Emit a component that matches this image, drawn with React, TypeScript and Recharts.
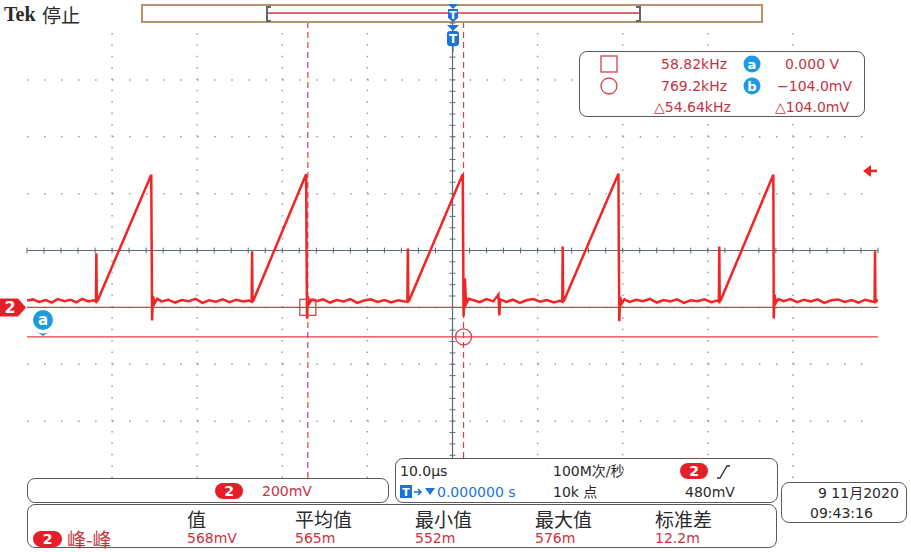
import React from "react";
import { LineChart, Line, XAxis, YAxis, ReferenceLine, ReferenceDot } from "recharts";

// 通道2 波形，时间 µs / 电压 mV（从截图读出）
const timeUs = [
  -50, -49.3, -48.6, -47.8, -47.1, -46.4, -45.6, -44.9, -44.2, -43.5, -42.8, -42.2,
  -41.9, -41.85, -41.8, -41.7, -35.4, -35.3, -35.2, -35.0, -34.7,
  -34.2, -33.4, -32.6, -31.8, -31.0, -30.2, -29.4, -28.6, -27.8, -27.0, -26.2, -25.4, -24.6, -23.9,
  -23.6, -23.55, -23.5, -23.4, -17.2, -17.1, -17.0, -16.8, -16.5,
  -16.0, -15.2, -14.4, -13.6, -12.8, -12.0, -11.2, -10.4, -9.6, -8.8, -8.0, -7.2, -6.4, -5.6,
  -5.3, -5.25, -5.2, -5.1, 1.2, 1.3, 1.45, 1.6, 1.9,
  2.4, 3.2, 4.0, 4.8, 5.4, 5.5, 5.6, 6.3, 7.1, 7.9, 8.7, 9.5, 10.3, 11.1, 11.9, 12.6,
  12.9, 12.95, 13.0, 13.1, 19.5, 19.55, 19.6, 19.7, 19.9, 20.2,
  20.8, 21.6, 22.4, 23.2, 24.0, 24.8, 25.6, 26.4, 27.2, 28.0, 28.8, 29.6, 30.4, 31.1,
  31.3, 31.35, 31.4, 31.5, 37.7, 37.75, 37.85, 38.0, 38.3,
  38.9, 39.7, 40.5, 41.3, 42.1, 42.9, 43.7, 44.5, 45.3, 46.1, 46.9, 47.7, 48.5, 49.3,
  49.6, 49.65, 49.7, 50,
];
const ch2mV = [
  24, 28, 19, 26, 17, 29, 22, 27, 18, 30, 21, 25,
  20, 190, 22, 24, 466, -46, 40, 14, 30,
  21, 27, 17, 26, 22, 30, 16, 25, 20, 28, 18, 27, 21, 24,
  20, 197, 22, 24, 468, -40, 38, 15, 28,
  22, 28, 17, 26, 21, 29, 16, 24, 28, 19, 26, 17, 25, 21,
  20, 207, 22, 24, 468, -32, 102, 12, 30,
  26, 18, 29, 21, 45, -28, 28, 19, 27, 16, 25, 29, 20, 26, 17, 23,
  20, 214, 22, 24, 470, 160, -49, 36, 14, 28,
  19, 27, 22, 30, 17, 26, 21, 28, 16, 25, 22, 28, 18, 24,
  20, 214, 22, 24, 466, -39, 45, 15, 29,
  22, 29, 18, 27, 21, 28, 16, 25, 28, 19, 26, 17, 27, 21,
  20, 197, 20, 26,
];

// 刻度（10 格 x 8 格，10µs/格，200mV/格）
const xDomain = [-50, 50];
const yDomain = [-600, 1000];
const xDivs = [-40, -30, -20, -10, 10, 20, 30, 40];
const yDivs = [-400, -200, 0, 400, 600, 800];
const xMinor = Array.from({ length: 51 }, (_, i) => -50 + i * 2);
const yMinor = Array.from({ length: 41 }, (_, i) => -600 + i * 40);
const yCenter = 200;

// 光标
const cursorTimes = [-17.0, 1.3];
const cursorLevels = [0, -104];
const triggerLevel = 480;

const readoutRows = [
  { freq: "58.82kHz", tag: "a", volt: "0.000 V", vx: 785 },
  { freq: "769.2kHz", tag: "b", volt: "−104.0mV", vx: 777 },
];
const measHeads = ["值", "平均值", "最小值", "最大值", "标准差"];
const measVals = ["568mV", "565m", "552m", "576m", "12.2m"];
const measX = [187, 295, 415, 535, 655];

const data = timeUs.map((t, i) => ({ t, v: ch2mV[i] }));

const red = "#f22525";
const redText = "#c8323e";
const dark = "#2a2a2a";
const boxLine = "#5a5a5a";
const tan = "#b8946d";
const blue = "#1b74d4";
const gridGray = "#9c9c9c";
const centerGray = "#5b6a7c";
const sans = "'DejaVu Sans', 'Noto Sans CJK SC', sans-serif";
const cjk = "'Noto Sans CJK SC', 'DejaVu Sans', sans-serif";

const Txt = ({ x, y, children, color = dark, size = 14, family = sans, weight = 400 }: any) => (
  <div
    style={{
      position: "absolute",
      left: x,
      top: y,
      transform: "translateY(-50%)",
      color,
      fontSize: size,
      fontFamily: family,
      fontWeight: weight,
      whiteSpace: "nowrap",
      lineHeight: 1,
    }}
  >
    {children}
  </div>
);

const Box = ({ x, y, w, h }: any) => (
  <div
    style={{
      position: "absolute",
      left: x,
      top: y,
      width: w,
      height: h,
      border: `1.5px solid ${boxLine}`,
      borderRadius: 8,
      boxSizing: "border-box",
      background: "#fff",
    }}
  />
);

const Pill = ({ x, y, w = 28, h = 16 }: any) => (
  <div
    style={{
      position: "absolute",
      left: x,
      top: y,
      width: w,
      height: h,
      borderRadius: h / 2,
      background: "#e51e2a",
      color: "#fff",
      fontFamily: sans,
      fontWeight: 700,
      fontSize: 14,
      lineHeight: `${h}px`,
      textAlign: "center",
    }}
  >
    2
  </div>
);

const Badge = ({ cx, cy, label }: any) => (
  <svg style={{ position: "absolute", left: cx - 10, top: cy - 10 }} width={20} height={20}>
    <circle cx={10} cy={10} r={8.5} fill="#1e9be0" />
    <text x={10} y={14.5} textAnchor="middle" fontSize={13} fontWeight={700} fill="#fff" fontFamily={sans}>
      {label}
    </text>
  </svg>
);

export default function App() {
  return (
    <div style={{ position: "absolute", left: 0, top: 0, width: 911, height: 552, background: "#fff", overflow: "hidden" }}>
      {/* 顶部 */}
      <Txt x={4} y={14} size={20} family="'Liberation Serif', serif" weight={700}>Tek</Txt>
      <Txt x={42} y={14} size={19} family={cjk}>停止</Txt>
      <div style={{ position: "absolute", left: 141, top: 4, width: 622, height: 19, border: `2px solid ${tan}`, boxSizing: "border-box" }} />

      <div style={{ position: "absolute", left: 0, top: 0 }}>
        <LineChart width={911} height={552} data={data} margin={{ top: 23, right: 33, bottom: 74, left: 27 }}>
          <XAxis dataKey="t" type="number" domain={xDomain} ticks={xMinor} allowDataOverflow height={0}
            mirror tickSize={4} tickFormatter={() => ""} axisLine={{ stroke: tan, strokeWidth: 2 }} tickLine={{ stroke: tan }} />
          <XAxis xAxisId="top" orientation="top" dataKey="t" type="number" domain={xDomain} ticks={xMinor} allowDataOverflow height={0}
            mirror tickSize={4} tickFormatter={() => ""} axisLine={{ stroke: tan, strokeWidth: 2 }} tickLine={{ stroke: tan }} />
          <YAxis type="number" domain={yDomain} ticks={yMinor} allowDataOverflow width={0}
            mirror tickSize={3} tickFormatter={() => ""} axisLine={{ stroke: tan, strokeWidth: 2 }} tickLine={{ stroke: tan }} />
          <YAxis yAxisId="right" orientation="right" type="number" domain={yDomain} ticks={yMinor} allowDataOverflow width={0}
            mirror tickSize={3} tickFormatter={() => ""} axisLine={{ stroke: tan, strokeWidth: 2 }} tickLine={{ stroke: tan }} />

          {xDivs.map((x) => (
            <ReferenceLine key={"gx" + x} x={x} stroke={gridGray} strokeWidth={1.5} strokeDasharray="1.5 9.875" />
          ))}
          {yDivs.map((y) => (
            <ReferenceLine key={"gy" + y} y={y} stroke={gridGray} strokeWidth={1.5} strokeDasharray="1.5 15.52" />
          ))}
          <ReferenceLine y={yCenter} stroke={centerGray} strokeWidth={1.2} />
          <ReferenceLine x={0} stroke={centerGray} strokeWidth={1.2} />
          {xMinor.map((x) => (
            <ReferenceLine key={"cx" + x} segment={[{ x, y: yCenter - 10 }, { x, y: yCenter + 10 }]} stroke={centerGray} />
          ))}
          {yMinor.map((y) => (
            <ReferenceLine key={"cy" + y} segment={[{ x: -0.35, y }, { x: 0.35, y }]} stroke={centerGray} />
          ))}

          {cursorLevels.map((y) => (
            <ReferenceLine key={"cl" + y} y={y} stroke="#e23b45" strokeWidth={1.2} />
          ))}
          {cursorTimes.map((x) => (
            <ReferenceLine key={"ct" + x} x={x} stroke="#e23b45" strokeWidth={1.2} strokeDasharray="6 4" />
          ))}

          <Line type="linear" dataKey="v" stroke={red} strokeWidth={2.5} dot={false} isAnimationActive={false} />

          <ReferenceDot x={cursorTimes[0]} y={cursorLevels[0]} r={8}
            shape={(p: any) => <rect x={p.cx - 8} y={p.cy - 8} width={16} height={16} fill="none" stroke="#d8404a" strokeWidth={1.3} />} />
          <ReferenceDot x={cursorTimes[1]} y={cursorLevels[1]} r={8} fill="none" stroke="#d8404a" strokeWidth={1.3} />
          <ReferenceDot x={xDomain[1]} y={triggerLevel} r={6}
            shape={(p: any) => (
              <g>
                <polygon points={`${p.cx - 15},${p.cy} ${p.cx - 7},${p.cy - 6} ${p.cx - 7},${p.cy + 6}`} fill="#ee2020" />
                <line x1={p.cx - 8} y1={p.cy} x2={p.cx - 1} y2={p.cy} stroke="#ee2020" strokeWidth={2.5} />
              </g>
            )} />
          <ReferenceDot x={xDomain[0]} y={0} r={6}
            shape={(p: any) => (
              <g>
                <polygon points={`${p.cx - 27},${p.cy - 9} ${p.cx - 9},${p.cy - 9} ${p.cx - 1},${p.cy} ${p.cx - 9},${p.cy + 9} ${p.cx - 27},${p.cy + 9}`} fill="#e51e2a" />
                <text x={p.cx - 17} y={p.cy + 6} textAnchor="middle" fill="#fff" fontSize={16} fontWeight={700} fontFamily={sans}>2</text>
              </g>
            )} />
        </LineChart>
      </div>

      {/* 记录条 + 触发标记 */}
      <svg style={{ position: "absolute", left: 0, top: 0 }} width={911} height={60}>
        <path d="M271,7 h-4 v14 h4" fill="none" stroke="#5d6677" strokeWidth={2} />
        <path d="M636,7 h4 v14 h-4" fill="none" stroke="#5d6677" strokeWidth={2} />
        <line x1={268} y1={13} x2={639} y2={13} stroke="#d23444" strokeWidth={1.5} />
        <polygon points="448,4 458,4 453,9" fill={blue} />
        <path d="M448,9 h10 v9 l-5,4 l-5,-4 z" fill={blue} />
        <text x={453} y={19} textAnchor="middle" fontSize={11} fontWeight={700} fill="#fff" fontFamily={sans}>T</text>
        <polygon points="447,25 459,25 453,31" fill={blue} />
        <rect x={447} y={31} width={12} height={15} rx={3} fill={blue} />
        <text x={453} y={43} textAnchor="middle" fontSize={12} fontWeight={700} fill="#fff" fontFamily={sans}>T</text>
        <line x1={453} y1={46} x2={453} y2={52} stroke={centerGray} strokeWidth={1.2} />
      </svg>

      {/* a 标记 */}
      <svg style={{ position: "absolute", left: 31, top: 309 }} width={26} height={28}>
        <circle cx={12} cy={11} r={10} fill="#1e9be0" />
        <text x={12} y={16} textAnchor="middle" fontSize={15} fontWeight={700} fill="#fff" fontFamily={sans}>a</text>
        <path d="M3,21 q9,7 18,0 l-9,6 z" fill="#1e9be0" />
      </svg>

      {/* 光标读数 */}
      <Box x={579} y={51} w={286} h={66} />
      <svg style={{ position: "absolute", left: 598, top: 54 }} width={24} height={42}>
        <rect x={3} y={2} width={16} height={16} fill="none" stroke="#d8404a" strokeWidth={1.3} />
        <circle cx={11} cy={32} r={8} fill="none" stroke="#d8404a" strokeWidth={1.3} />
      </svg>
      {readoutRows.map((r, i) => (
        <React.Fragment key={r.tag}>
          <Txt x={661} y={64 + i * 22} color={redText}>{r.freq}</Txt>
          <Badge cx={752} cy={64 + i * 22} label={r.tag} />
          <Txt x={r.vx} y={64 + i * 22} color={redText}>{r.volt}</Txt>
        </React.Fragment>
      ))}
      <Txt x={654} y={107} color={redText}>△54.64kHz</Txt>
      <Txt x={775} y={107} color={redText}>△104.0mV</Txt>

      {/* 底部信息框 */}
      <Box x={27} y={478} w={362} h={25} />
      <Pill x={215} y={483} />
      <Txt x={262} y={491} color={redText}>200mV</Txt>

      <Box x={395} y={458} w={383} h={45} />
      <Txt x={400} y={471}>10.0µs</Txt>
      <Txt x={553} y={471}>100M次/秒</Txt>
      <Pill x={680} y={463} />
      <svg style={{ position: "absolute", left: 714, top: 463 }} width={20} height={18}>
        <path d="M3,15 h3 l7,-12 h3" fill="none" stroke={dark} strokeWidth={1.3} />
      </svg>
      <svg style={{ position: "absolute", left: 399, top: 484 }} width={40} height={16}>
        <rect x={1} y={1} width={12} height={13} fill={blue} />
        <text x={7} y={12} textAnchor="middle" fontSize={11} fontWeight={700} fill="#fff" fontFamily={sans}>T</text>
        <path d="M15,8 h7 M19,5 l3,3 l-3,3" fill="none" stroke={blue} strokeWidth={1.5} />
        <polygon points="26,4 36,4 31,11" fill={blue} />
      </svg>
      <Txt x={437} y={492} color={blue}>0.000000 s</Txt>
      <Txt x={553} y={492}>10k 点</Txt>
      <Txt x={685} y={492}>480mV</Txt>

      <Box x={781} y={482} w={126} h={41} />
      <Txt x={818} y={493}>9 11月2020</Txt>
      <Txt x={810} y={513}>09:43:16</Txt>

      <Box x={27} y={504} w={750} h={44} />
      {measHeads.map((h, i) => (
        <Txt key={h} x={measX[i]} y={518} size={19} family={cjk}>{h}</Txt>
      ))}
      <Pill x={33} y={531} w={29} />
      <Txt x={67} y={538} size={19} family={cjk} color={redText}>峰-峰</Txt>
      {measVals.map((v, i) => (
        <Txt key={v} x={measX[i]} y={538} color={redText}>{v}</Txt>
      ))}
    </div>
  );
}
